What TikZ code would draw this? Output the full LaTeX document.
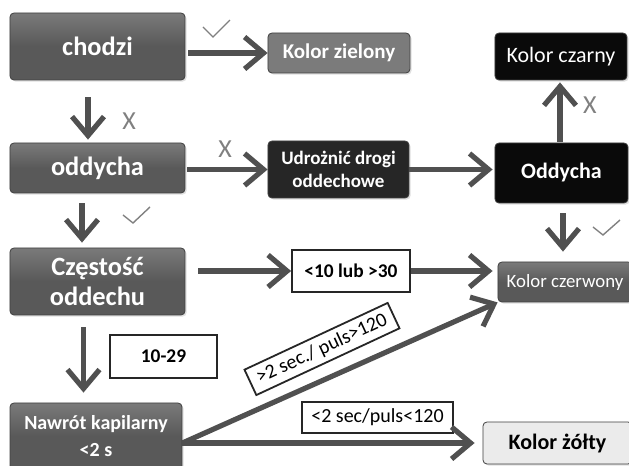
\documentclass[tikz,border=0pt]{standalone}
\usepackage{fontspec}
\setmainfont{Carlito}
\usetikzlibrary{arrows.meta,shadows}
\definecolor{boxdark}{HTML}{595959}
\definecolor{boxmid}{HTML}{7B7B7B}
\definecolor{boxdeep}{HTML}{262626}
\definecolor{boxblack}{HTML}{0A0A0A}
\definecolor{boxlight}{HTML}{EBEBEB}
\definecolor{flowgray}{HTML}{505050}
\definecolor{markgray}{HTML}{808080}

\begin{document}
\begin{tikzpicture}[x=5pt,y=5pt,
  box/.style={rounded corners=2pt, draw=black!75, line width=0.4pt, align=center,
    inner sep=0pt, text=white, drop shadow={opacity=0.25, shadow xshift=0.8pt, shadow yshift=-0.8pt}},
  darkbox/.style={box, top color=boxdark!80!white, bottom color=boxdark, middle color=boxdark},
  labelbox/.style={draw=black!85, line width=0.9pt, fill=white, inner sep=0pt, align=center},
  flow/.style={draw=flowgray, line width=2.6pt, -{Straight Barb[length=9.5pt,width=16pt]}},
  crossmark/.style={text=markgray, inner sep=0pt, font=\fontsize{13}{13}\selectfont},
  tick/.style={draw=markgray, line width=0.7pt}]
\useasboundingbox (0,0) rectangle (62.9,-46.6);
\clip (0,0) rectangle (62.9,-46.6);
% left column
\node[darkbox, minimum width=87.5pt, minimum height=33.5pt, font=\fontsize{13.2}{16}\selectfont\bfseries] (chodzi) at (9.75,-4.65) {chodzi};
\node[darkbox, minimum width=87.5pt, minimum height=25pt, font=\fontsize{13.2}{16}\selectfont\bfseries] (oddycha) at (9.75,-16.8) {oddycha};
\node[darkbox, minimum width=87.5pt, minimum height=33.5pt, font=\fontsize{13.2}{15}\selectfont\bfseries] (czestosc) at (9.75,-28.15) {Częstość\\oddechu};
\node[darkbox, minimum width=86pt, minimum height=33.5pt, font=\fontsize{10}{13.5}\selectfont\bfseries] (nawrot) at (9.6,-43.65) {Nawrót kapilarny\\<2 s};
% middle column
\node[box, fill=boxmid, minimum width=71pt, minimum height=20pt, font=\fontsize{10.5}{12}\selectfont\bfseries] (zielony) at (33.9,-5.3) {Kolor zielony};
\node[box, fill=boxdeep, minimum width=70.5pt, minimum height=28.5pt, font=\fontsize{9.5}{11.5}\selectfont\bfseries] (udroznic) at (33.85,-16.95) {Udrożnić drogi\\oddechowe};
\node[labelbox, minimum width=59pt, minimum height=21pt, font=\fontsize{9.7}{11}\selectfont\bfseries] (lub) at (35.1,-27.1) {<10 lub >30};
\node[labelbox, minimum width=53.5pt, minimum height=21.5pt, font=\fontsize{9.7}{11}\selectfont\bfseries] (range) at (16.35,-35.65) {10-29};
\node[labelbox, minimum width=75.5pt, minimum height=15.5pt, font=\fontsize{10}{11}\selectfont] (below) at (37.75,-41.75) {<2 sec/puls<120};
\node[labelbox, inner xsep=4pt, minimum height=14pt, rotate=25, font=\fontsize{10}{11}\selectfont] (above) at (32.2,-34.9) {>2 sec./ puls>120};
% right column
\node[box, fill=boxblack, minimum width=66pt, minimum height=23.5pt, font=\fontsize{11}{12}\selectfont] (czarny) at (56.1,-5.65) {Kolor czarny};
\node[box, fill=boxblack, minimum width=66.5pt, minimum height=30pt, font=\fontsize{11}{12}\selectfont\bfseries] (oddychaR) at (56.15,-17.3) {Oddycha};
\node[darkbox, minimum width=67pt, minimum height=20pt, font=\fontsize{9.4}{11}\selectfont] (czerwony) at (56.5,-28.2) {Kolor czerwony};
\node[box, fill=boxlight, text=black, minimum width=74.5pt, minimum height=21pt, font=\fontsize{11}{12}\selectfont\bfseries] (zolty) at (55.75,-44.3) {Kolor żółty};
% connectors
\draw[flow, shorten <=1.5pt] (chodzi.east |- zielony.west) -- (zielony.west);
\draw[flow, shorten <=8.5pt, shorten >=1.5pt] ([xshift=-4.75pt]chodzi.south) -- ([xshift=-4.75pt]oddycha.north);
\draw[flow, shorten <=1pt] (oddycha.east |- udroznic.west) -- (udroznic.west);
\draw[flow, shorten >=1pt] (udroznic.east) -- (udroznic.east -| oddychaR.west);
\draw[flow, shorten <=5pt, shorten >=2.5pt] ([xshift=-7.75pt]oddycha.south) -- ([xshift=-7.75pt]oddycha.south |- czestosc.north);
\draw[flow, shorten <=6.5pt] (czestosc.east |- lub.west) -- (lub.west);
\draw[flow, shorten >=2.5pt] (lub.east) -- (lub.east -| czerwony.west);
\draw[flow, shorten <=0.5pt, shorten >=1pt] ([xshift=-0.75pt]oddychaR.north) -- ([xshift=-0.75pt]oddychaR.north |- czarny.south);
\draw[flow, shorten <=5pt, shorten >=5pt] ([xshift=0.75pt]oddychaR.south) -- ([xshift=0.75pt]oddychaR.south |- czerwony.north);
\draw[flow, shorten <=6pt, shorten >=5pt] ([xshift=-7pt]czestosc.south) -- ([xshift=-7pt]czestosc.south |- nawrot.north);
\draw[flow, shorten >=4pt] (nawrot.east |- zolty.west) -- (zolty.west);
\draw[flow] (nawrot.east |- zolty.west) -- (czerwony.south west);
% marks
\node[crossmark] (no1) at (12.9,-12.1) {X};
\node[crossmark] (no2) at (22.5,-14.9) {X};
\node[crossmark] (no3) at (59.0,-10.5) {X};
\draw[tick] (20.3,-2.7) -- (21.3,-3.7) -- (23.0,-2.0);
\draw[tick] (12.3,-21.5) -- (13.3,-22.3) -- (15.0,-20.7);
\draw[tick] (59.3,-22.7) -- (60.3,-23.5) -- (62.0,-22.0);
\end{tikzpicture}
\end{document}
